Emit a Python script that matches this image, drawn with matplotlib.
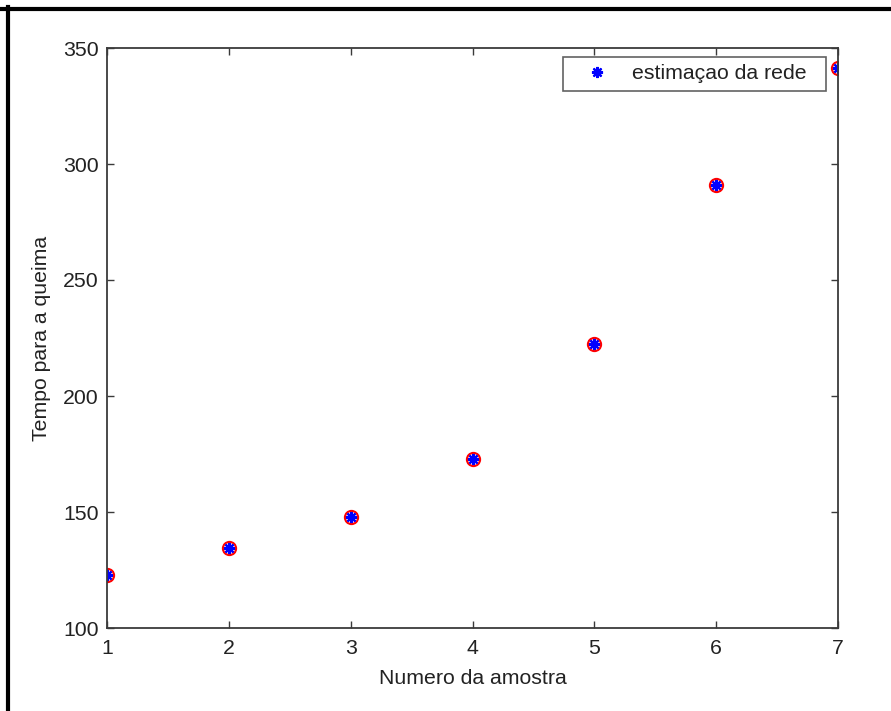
import matplotlib
matplotlib.use("Agg")
import matplotlib.pyplot as plt
from matplotlib.lines import Line2D

amostra = [1, 2, 3, 4, 5, 6, 7]
tempo_real = [122.8, 134.4, 148.0, 173.0, 222.2, 290.8, 341.4]
tempo_rede = [122.8, 134.4, 148.0, 173.0, 222.2, 290.8, 341.4]
xticks = [1, 2, 3, 4, 5, 6, 7]
yticks = [100, 150, 200, 250, 300, 350]

plt.rcParams['font.family'] = ['Liberation Sans', 'DejaVu Sans']
fig = plt.figure(figsize=(8.91, 7.11), dpi=100)
ax = fig.add_axes([107/891, 1-628/711, (838-107)/891, (628-48)/711])

ax.plot(amostra, tempo_real, linestyle='none', marker='o', markersize=9.5,
        markerfacecolor='none', markeredgecolor='red', markeredgewidth=1.5)
ax.plot(amostra, tempo_rede, linestyle='none', marker=(8, 2, 0), markersize=8,
        markeredgewidth=1.6, color='blue', label='estimaçao da rede')

ax.set_xlim(1, 7)
ax.set_ylim(100, 350)
ax.set_xticks(xticks)
ax.set_yticks(yticks)
gray = '#3a3a3a'
fs = 15.3
for s in ax.spines.values():
    s.set_color(gray)
    s.set_linewidth(1.3)
ax.tick_params(direction='in', length=5, width=1, colors=gray, labelcolor='#222222',
               labelsize=fs, top=True, right=True)
ax.tick_params(axis='x', pad=8)
ax.tick_params(axis='y', pad=6)
ax.set_xlabel('Numero da amostra', fontsize=fs, color='#222222', labelpad=8)
ax.set_ylabel('Tempo para a queima', fontsize=fs, color='#222222', labelpad=9)

leg = ax.legend(loc='upper right', fontsize=fs, frameon=True, fancybox=False,
                edgecolor=gray, handlelength=2.5, handletextpad=0.4,
                borderaxespad=0.0, borderpad=0.35,
                bbox_to_anchor=(1 - 12/731, 1 - 9/580))
leg.get_frame().set_linewidth(1.2)
for t in leg.get_texts():
    t.set_color('#222222')
    t.set_text('estimaçao da rede  ')

fig.add_artist(Line2D([0, 1], [1-8.5/711, 1-8.5/711], color='black', linewidth=3,
                      transform=fig.transFigure))
fig.add_artist(Line2D([7.5/891, 7.5/891], [0, 1-7/711], color='black', linewidth=3,
                      transform=fig.transFigure))

fig.savefig('out.png', dpi=100, facecolor='white')
